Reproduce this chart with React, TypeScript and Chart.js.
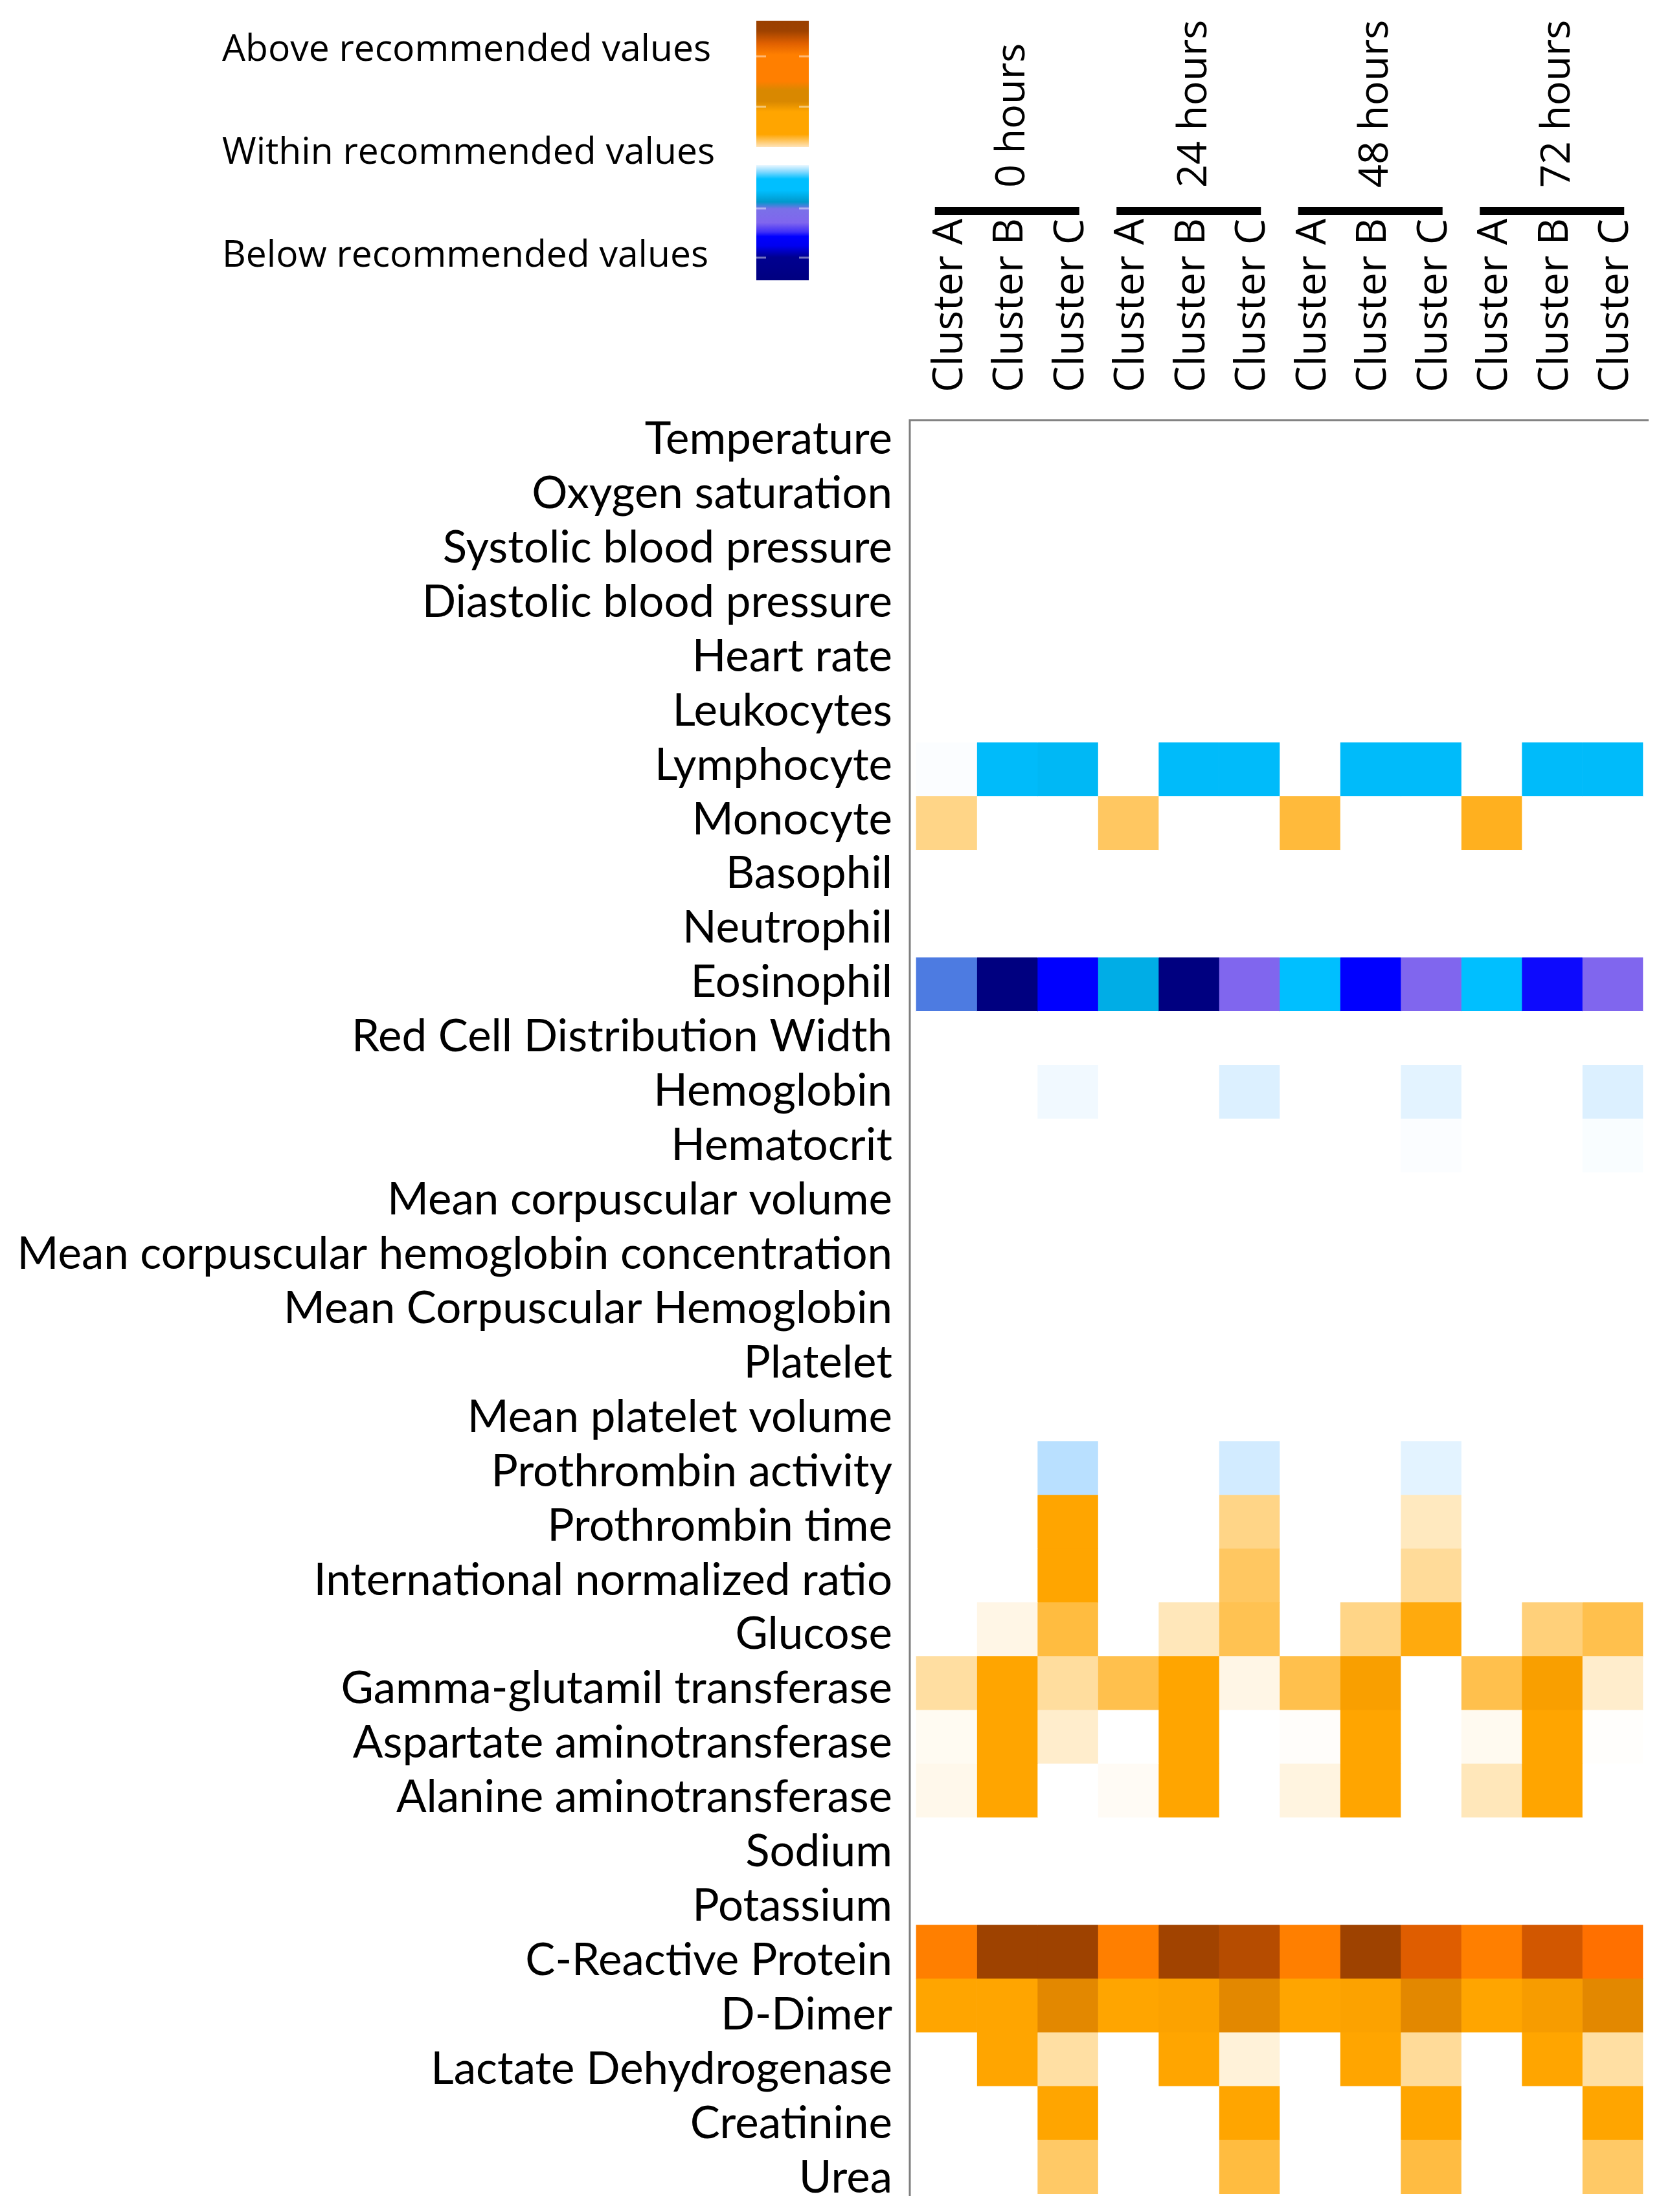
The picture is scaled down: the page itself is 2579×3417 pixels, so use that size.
import React, { useEffect, useRef } from 'react';
import { Chart, registerables } from 'chart.js';

Chart.register(...registerables);

const W = 2579;
const H = 3417;

// ---------- labels ----------
const rowLabels = [
  'Temperature',
  'Oxygen saturation',
  'Systolic blood pressure',
  'Diastolic blood pressure',
  'Heart rate',
  'Leukocytes',
  'Lymphocyte',
  'Monocyte',
  'Basophil',
  'Neutrophil',
  'Eosinophil',
  'Red Cell Distribution Width',
  'Hemoglobin',
  'Hematocrit',
  'Mean corpuscular volume',
  'Mean corpuscular hemoglobin concentration',
  'Mean Corpuscular Hemoglobin',
  'Platelet',
  'Mean platelet volume',
  'Prothrombin activity',
  'Prothrombin time',
  'International normalized ratio',
  'Glucose',
  'Gamma-glutamil transferase',
  'Aspartate aminotransferase',
  'Alanine aminotransferase',
  'Sodium',
  'Potassium',
  'C-Reactive Protein',
  'D-Dimer',
  'Lactate Dehydrogenase',
  'Creatinine',
  'Urea',
];

const clusterLabels = ['Cluster A', 'Cluster B', 'Cluster C'];
const timeLabels = ['0 hours', '24 hours', '48 hours', '72 hours'];
const legendLabels = ['Above recommended values', 'Within recommended values', 'Below recommended values'];

// ---------- values (deviation score: >0 above, <0 below, 0 within), one array per column, index = row ----------
const h0A = [0, 0, 0, 0, 0, 0, -0.03, 0.47, 0, 0, -1.8, 0, 0, 0, 0, 0, 0, 0, 0, 0, 0, 0, 0, 0.37, 0.05, 0.08, 0, 0, 2, 1, 0, 0, 0];
const h0B = [0, 0, 0, 0, 0, 0, -1.05, 0, 0, 0, -4, 0, 0, 0, 0, 0, 0, 0, 0, 0, 0, 0, 0.1, 1, 1, 1, 0, 0, 3.94, 1, 1, 0, 0];
const h0C = [0, 0, 0, 0, 0, 0, -1.1, 0, 0, 0, -3, 0, -0.1, 0, 0, 0, 0, 0, 0, -0.5, 1, 1, 0.75, 0.38, 0.2, 0, 0, 0, 3.94, 1.5, 0.36, 1, 0.6];
const h24A = [0, 0, 0, 0, 0, 0, 0, 0.62, 0, 0, -1.25, 0, 0, 0, 0, 0, 0, 0, 0, 0, 0, 0, 0, 0.7, 0, 0.04, 0, 0, 2, 1, 0, 0, 0];
const h24B = [0, 0, 0, 0, 0, 0, -1.05, 0, 0, 0, -4, 0, 0, 0, 0, 0, 0, 0, 0, 0, 0, 0, 0.27, 1, 1, 1, 0, 0, 3.9, 1.05, 1, 0, 0];
const h24C = [0, 0, 0, 0, 0, 0, -1.05, 0, 0, 0, -2, 0, -0.25, 0, 0, 0, 0, 0, 0, -0.32, 0.47, 0.62, 0.68, 0.1, 0, 0, 0, 0, 3.58, 1.5, 0.15, 1, 0.75];
const h48A = [0, 0, 0, 0, 0, 0, 0, 0.77, 0, 0, -1, 0, 0, 0, 0, 0, 0, 0, 0, 0, 0, 0, 0, 0.7, 0.02, 0.12, 0, 0, 2, 1, 0, 0, 0];
const h48B = [0, 0, 0, 0, 0, 0, -1.05, 0, 0, 0, -3, 0, 0, 0, 0, 0, 0, 0, 0, 0, 0, 0, 0.47, 1.1, 1, 1, 0, 0, 3.94, 1.05, 1, 0, 0];
const h48C = [0, 0, 0, 0, 0, 0, -1.05, 0, 0, 0, -2, 0, -0.2, -0.03, 0, 0, 0, 0, 0, -0.2, 0.25, 0.4, 0.95, 0, 0, 0, 0, 0, 2.98, 1.5, 0.4, 1, 0.74];
const h72A = [0, 0, 0, 0, 0, 0, 0, 0.88, 0, 0, -1, 0, 0, 0, 0, 0, 0, 0, 0, 0, 0, 0, 0, 0.7, 0.06, 0.27, 0, 0, 2, 1, 0, 0, 0];
const h72B = [0, 0, 0, 0, 0, 0, -1.05, 0, 0, 0, -2.9, 0, 0, 0, 0, 0, 0, 0, 0, 0, 0, 0, 0.52, 1.1, 1, 1, 0, 0, 3.17, 1.15, 1, 0, 0];
const h72C = [0, 0, 0, 0, 0, 0, -1.05, 0, 0, 0, -2, 0, -0.25, -0.04, 0, 0, 0, 0, 0, 0, 0, 0, 0.7, 0.2, 0.01, 0, 0, 0, 2.35, 1.5, 0.36, 1, 0.6];

const columns = [h0A, h0B, h0C, h24A, h24B, h24C, h48A, h48B, h48C, h72A, h72B, h72C];
const columnLabels = columns.map((_, i) => clusterLabels[i % 3]);

// ---------- colour scale ----------
const POS_STOPS: [number, string][] = [
  [0, '#FFFFFF'],
  [1, '#FFA500'],
  [1.5, '#E38800'],
  [2, '#FF7F00'],
  [2.5, '#FF6A00'],
  [4, '#9A4000'],
];
const NEG_STOPS: [number, string][] = [
  [0, '#FFFFFF'],
  [-0.5, '#B9E0FF'],
  [-1, '#00BFFF'],
  [-1.5, '#009ACD'],
  [-2, '#8066EE'],
  [-3, '#0000FF'],
  [-4, '#000080'],
];

function hexToRgb(h: string): number[] {
  const n = parseInt(h.slice(1), 16);
  return [(n >> 16) & 255, (n >> 8) & 255, n & 255];
}

function colorFor(v: number): string {
  const stops = v >= 0 ? POS_STOPS : NEG_STOPS;
  const a = Math.abs(v);
  for (let i = 1; i < stops.length; i++) {
    const a0 = Math.abs(stops[i - 1][0]);
    const a1 = Math.abs(stops[i][0]);
    if (a <= a1 || i === stops.length - 1) {
      const t = Math.max(0, Math.min(1, (a - a0) / (a1 - a0)));
      const c0 = hexToRgb(stops[i - 1][1]);
      const c1 = hexToRgb(stops[i][1]);
      const c = c0.map((x, k) => Math.round(x + (c1[k] - x) * t));
      return `rgb(${c[0]},${c[1]},${c[2]})`;
    }
  }
  return '#FFFFFF';
}

// ---------- geometry ----------
const CELL_W = 93.5;
const X_MIN = -10 / CELL_W;
const X_MAX = columns.length + 9 / CELL_W;
const PLOT_LEFT = 1405;
const PLOT_TOP = 649;
const PLOT_RIGHT = 2546;
const PLOT_BOTTOM = 3389;
const AXIS_GRAY = '#7F7F7F';

const headerFont = '"Open Sans", "DejaVu Sans", sans-serif';
const rowFont = '69px Lato, "Open Sans", sans-serif';
const LABEL_RIGHT_GAP = 27;
const LABEL_BASELINE_OFFSET = 10.5; // baseline below row centre for first row
const LABEL_DRIFT = 0.9; // extra px per row (labels spaced slightly wider than rows)

const overlayPlugin = {
  id: 'overlay',
  afterDraw(chart: any) {
    const ctx: CanvasRenderingContext2D = chart.ctx;
    const xs = chart.scales.x;
    const ys = chart.scales.y;
    const area = chart.chartArea;
    ctx.save();

    // plot frame (left and top lines)
    ctx.strokeStyle = AXIS_GRAY;
    ctx.lineWidth = 3;
    ctx.beginPath();
    ctx.moveTo(area.left, area.bottom + 3);
    ctx.lineTo(area.left, area.top - 1.5);
    ctx.moveTo(area.left - 1.5, area.top);
    ctx.lineTo(area.right, area.top);
    ctx.stroke();

    ctx.fillStyle = '#000';
    ctx.textBaseline = 'alphabetic';

    // row labels
    ctx.font = rowFont;
    ctx.textAlign = 'right';
    rowLabels.forEach((lab, i) => {
      const y = ys.getPixelForValue(i) + LABEL_BASELINE_OFFSET + LABEL_DRIFT * i;
      ctx.fillText(lab, area.left - LABEL_RIGHT_GAP, y);
    });

    ctx.textAlign = 'left';
    // column labels
    ctx.font = `64px ${headerFont}`;
    columnLabels.forEach((lab, c) => {
      const x = xs.getPixelForValue(c + 0.5);
      ctx.save();
      ctx.translate(x + 24, 606);
      ctx.rotate(-Math.PI / 2);
      ctx.fillText(lab, 0, 0);
      ctx.restore();
    });

    // time group labels and bars
    ctx.font = `63px ${headerFont}`;
    timeLabels.forEach((t, g) => {
      const xa = xs.getPixelForValue(3 * g + 0.5);
      const xb = xs.getPixelForValue(3 * g + 1.5);
      const xc = xs.getPixelForValue(3 * g + 2.5);
      ctx.save();
      ctx.translate(xb + 27, 290);
      ctx.rotate(-Math.PI / 2);
      ctx.fillText(t, 0, 0);
      ctx.restore();
      ctx.fillRect(xa - 18, 320, xc - xa + 36, 12);
    });

    // legend text
    ctx.font = `57px ${headerFont}`;
    const baselines = [94, 253, 412];
    legendLabels.forEach((t, i) => ctx.fillText(t, 343, baselines[i]));

    // legend bars
    const bx = 1168;
    const bw = 81;
    const oTop = 32, oBot = 227;
    const og = ctx.createLinearGradient(0, oTop, 0, oBot);
    [
      [0, '#9A4000'], [0.08, '#9E4200'], [0.18, '#E06000'], [0.27, '#FF7F00'], [0.48, '#FF7F00'],
      [0.55, '#D98800'], [0.64, '#D98800'], [0.72, '#FFA500'], [0.9, '#FFA500'], [1, '#FFE3B8'],
    ].forEach(([o, c]) => og.addColorStop(o as number, c as string));
    ctx.fillStyle = og;
    ctx.fillRect(bx, oTop, bw, oBot - oTop);

    const bTop = 255, bBot = 433;
    const bg = ctx.createLinearGradient(0, bTop, 0, bBot);
    [
      [0, '#EAF7FF'], [0.06, '#80D8FF'], [0.12, '#00BFFF'], [0.22, '#00BFFF'], [0.32, '#0099CC'],
      [0.38, '#7A70E8'], [0.5, '#8066EE'], [0.58, '#4030F8'], [0.62, '#0000FF'], [0.7, '#0000F0'],
      [0.8, '#000090'], [1, '#000080'],
    ].forEach(([o, c]) => bg.addColorStop(o as number, c as string));
    ctx.fillStyle = bg;
    ctx.fillRect(bx, bTop, bw, bBot - bTop);

    // small tick dashes on the bars
    ctx.strokeStyle = 'rgba(255,255,255,0.45)';
    ctx.lineWidth = 3;
    [87, 165, 322, 398].forEach((y) => {
      ctx.beginPath();
      ctx.moveTo(bx, y);
      ctx.lineTo(bx + 15, y);
      ctx.moveTo(bx + bw - 15, y);
      ctx.lineTo(bx + bw, y);
      ctx.stroke();
    });
    ctx.restore();
  },
};

export default function App() {
  const ref = useRef<HTMLCanvasElement | null>(null);

  useEffect(() => {
    if (!ref.current) return;
    const chart = new Chart(ref.current, {
      type: 'bar',
      data: {
        labels: rowLabels,
        datasets: columns.map((vals, c) => ({
          label: columnLabels[c],
          data: vals.map(() => [c, c + 1]),
          backgroundColor: vals.map(colorFor),
          borderWidth: 0,
          barPercentage: 1,
          categoryPercentage: 1,
          grouped: false,
          xAxisID: 'x',
          yAxisID: 'y',
        })) as any,
      },
      options: {
        indexAxis: 'y',
        responsive: false,
        animation: false,
        events: [],
        layout: {
          padding: { left: PLOT_LEFT, top: PLOT_TOP, right: W - PLOT_RIGHT, bottom: H - PLOT_BOTTOM },
        },
        plugins: { legend: { display: false }, tooltip: { enabled: false }, title: { display: false } },
        scales: {
          x: { type: 'linear', min: X_MIN, max: X_MAX, display: false },
          y: { type: 'category', display: false, offset: true },
        } as any,
      },
      plugins: [overlayPlugin],
    });

    let alive = true;
    const fonts = (document as any).fonts;
    if (fonts && fonts.load) {
      Promise.all([fonts.load('64px "Open Sans"'), fonts.load('69px Lato')])
        .then(() => {
          if (alive) chart.update();
        })
        .catch(() => {});
    }
    return () => {
      alive = false;
      chart.destroy();
    };
  }, []);

  return (
    <div style={{ position: 'absolute', left: 0, top: 0, width: W, height: H, background: '#fff' }}>
      <canvas ref={ref} width={W} height={H} style={{ display: 'block', width: W, height: H }} />
    </div>
  );
}
